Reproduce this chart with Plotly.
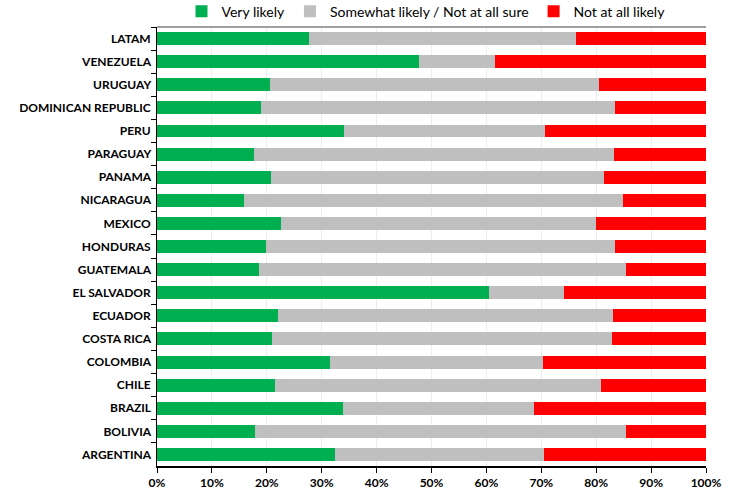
import plotly.graph_objects as go

countries = ["LATAM", "VENEZUELA", "URUGUAY", "DOMINICAN REPUBLIC", "PERU", "PARAGUAY",
             "PANAMA", "NICARAGUA", "MEXICO", "HONDURAS", "GUATEMALA", "EL SALVADOR",
             "ECUADOR", "COSTA RICA", "COLOMBIA", "CHILE", "BRAZIL", "BOLIVIA", "ARGENTINA"]
very_likely = [27.7, 47.7, 20.5, 19.0, 34.1, 17.7, 20.8, 15.9, 22.5, 19.9, 18.5, 60.5,
               22.1, 21.0, 31.5, 21.5, 33.9, 17.9, 32.5]
somewhat = [48.6, 13.8, 60.1, 64.5, 36.5, 65.5, 60.6, 68.9, 57.4, 63.6, 67.0, 13.6,
            60.9, 61.8, 38.8, 59.3, 34.7, 67.5, 38.0]
not_likely = [23.7, 38.5, 19.4, 16.5, 29.4, 16.8, 18.6, 15.2, 20.1, 16.5, 14.5, 25.9,
              17.0, 17.2, 29.7, 19.2, 31.4, 14.6, 29.5]

series = [("Very likely", very_likely, "#00B050"),
          ("Somewhat likely / Not at all sure", somewhat, "#BFBFBF"),
          ("Not at all likely", not_likely, "#FF0000")]

fig = go.Figure()
for name, vals, col in series:
    fig.add_trace(go.Bar(y=countries, x=vals, name=name, orientation="h",
                         marker=dict(color=col, line=dict(width=0))))

fig.update_layout(
    barmode="stack", bargap=0.44,
    width=741, height=495,
    margin=dict(l=157, r=35, t=27, b=29, autoexpand=False),
    plot_bgcolor="white", paper_bgcolor="white",
    font=dict(family="Lato", size=12, color="black"),
    legend=dict(orientation="h", x=0.49, xanchor="center", y=1.035, yanchor="middle",
                font=dict(size=14, family="Lato"), itemwidth=30, traceorder="normal",
                bgcolor="rgba(0,0,0,0)"),
    xaxis=dict(range=[0, 100], dtick=10, ticksuffix="%", showgrid=True,
               gridcolor="#EDEDED", gridwidth=1, zeroline=False,
               showline=True, linecolor="black", linewidth=1.5,
               ticks="outside", ticklen=5, tickcolor="black",
               tickfont=dict(family="Lato", size=12, color="black", weight="bold")),
    yaxis=dict(categoryorder="array", categoryarray=countries, autorange="reversed",
               showline=True, linecolor="black", linewidth=1,
               ticks="outside", ticklen=5, tickcolor="black", tickson="boundaries",
               tickfont=dict(family="Lato", size=12, color="black", weight="bold"),
               ticksuffix=" "),
    shapes=[dict(type="line", xref="paper", yref="paper", x0=0, x1=1, y0=1, y1=1,
                 line=dict(color="#808080", width=1.5))],
)

fig.write_html("out.html", config={"displayModeBar": False},
               post_script="document.body.style.margin='0';document.body.style.overflow='hidden';")
